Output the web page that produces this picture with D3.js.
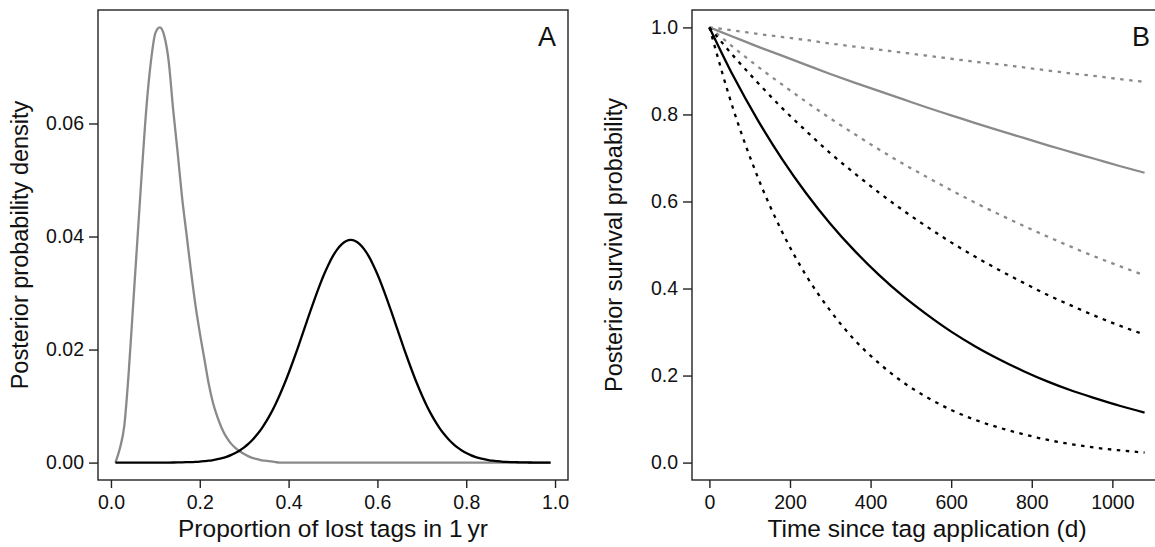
<!DOCTYPE html>
<html>
<head>
<meta charset="utf-8">
<script src="https://cdn.jsdelivr.net/npm/d3@7"></script>
<style>
  body { margin: 0; background: #fff; }
  text { font-family: "Liberation Sans", Arial, Helvetica, sans-serif; fill: #111; }
</style>
</head>
<body>
<div id="chart"></div>
<script>
// Panel A: proportion of lost tags in 1 yr (0.01 .. 0.99 by 0.01)
const propX = d3.range(1, 100).map(i => i / 100);
const densGrey = [
  0.0000, 0.0025, 0.0065, 0.0160, 0.0280, 0.0400, 0.0520, 0.0630, 0.0710, 0.0760,
  0.0770, 0.0755, 0.0710, 0.0625, 0.0550, 0.0470, 0.0405, 0.0340, 0.0280, 0.0230,
  0.0185, 0.0140, 0.0105, 0.0080, 0.0060, 0.0045, 0.0034, 0.0026, 0.0020, 0.0015,
  0.0011, 0.0008, 0.0006, 0.0004, 0.0003, 0.0002, 0.0001,
  0, 0, 0, 0, 0, 0, 0, 0, 0, 0, 0, 0, 0, 0, 0, 0, 0, 0, 0, 0, 0, 0, 0, 0, 0, 0,
  0, 0, 0, 0, 0, 0, 0, 0, 0, 0, 0, 0, 0, 0, 0, 0, 0, 0, 0, 0, 0, 0, 0, 0, 0, 0,
  0, 0, 0, 0, 0, 0, 0, 0, 0, 0, 0, 0, 0, 0
];
const densBlack = [
  0, 0, 0, 0, 0, 0, 0, 0, 0, 0, 0, 0,
  0.00001, 0.00002, 0.00003, 0.00005, 0.00007, 0.00009, 0.00013, 0.00018, 0.00025, 0.00033,
  0.00045, 0.00060, 0.00078, 0.00102, 0.00132, 0.00169, 0.00214, 0.00269, 0.00335, 0.00413,
  0.00505, 0.00611, 0.00733, 0.00871, 0.01025, 0.01196, 0.01381, 0.01581, 0.01793, 0.02014,
  0.02242, 0.02473, 0.02702, 0.02924, 0.03136, 0.03332, 0.03507, 0.03657, 0.03778, 0.03867,
  0.03922, 0.03940, 0.03922, 0.03867, 0.03778, 0.03657, 0.03507, 0.03332, 0.03136, 0.02924,
  0.02702, 0.02473, 0.02242, 0.02014, 0.01793, 0.01581, 0.01381, 0.01196, 0.01025, 0.00871,
  0.00733, 0.00611, 0.00505, 0.00413, 0.00335, 0.00269, 0.00214, 0.00169, 0.00132, 0.00102,
  0.00078, 0.00060, 0.00045, 0.00033, 0.00025, 0.00018, 0.00013, 0.00009, 0.00007, 0.00005,
  0.00003, 0.00002, 0.00001, 0, 0, 0, 0
];
const ticksAx = [0, 0.2, 0.4, 0.6, 0.8, 1.0];
const ticksAy = [0, 0.02, 0.04, 0.06];

// Panel B: survival vs days since tagging
const days = [0, 60, 120, 180, 240, 300, 360, 420, 480, 540, 600, 660, 720, 780, 840, 900, 960, 1020, 1080];
const survGreyHi = [1.000, 0.993, 0.985, 0.978, 0.971, 0.963, 0.956, 0.949, 0.942, 0.935, 0.928, 0.921, 0.915, 0.908, 0.901, 0.894, 0.888, 0.881, 0.875];
const survGreyMed = [1.000, 0.978, 0.956, 0.935, 0.914, 0.893, 0.873, 0.854, 0.835, 0.816, 0.798, 0.780, 0.763, 0.746, 0.729, 0.713, 0.697, 0.681, 0.666];
const survGreyLo = [1.000, 0.954, 0.910, 0.869, 0.829, 0.791, 0.755, 0.720, 0.687, 0.656, 0.626, 0.597, 0.570, 0.544, 0.519, 0.495, 0.472, 0.451, 0.430];
const survBlackHi = [1.000, 0.934, 0.873, 0.815, 0.762, 0.711, 0.665, 0.621, 0.580, 0.542, 0.506, 0.473, 0.442, 0.413, 0.385, 0.360, 0.336, 0.314, 0.294];
const survBlackMed = [1.000, 0.887, 0.787, 0.698, 0.619, 0.549, 0.487, 0.432, 0.383, 0.340, 0.301, 0.267, 0.237, 0.210, 0.186, 0.165, 0.147, 0.130, 0.115];
const survBlackLo = [1.000, 0.810, 0.656, 0.531, 0.430, 0.349, 0.282, 0.229, 0.185, 0.150, 0.121, 0.098, 0.080, 0.065, 0.052, 0.042, 0.034, 0.028, 0.023];
const ticksBx = [0, 200, 400, 600, 800, 1000];
const ticksBy = [0, 0.2, 0.4, 0.6, 0.8, 1.0];

const GREY = "#8a8a8a",
  WIDTH = 1155,
  HEIGHT = 547,
  PLOT = 470,
  TOP = 10,
  PANEL_W = 594,
  LEFT = 98;

const svg = d3.select("#chart").append("svg")
  .attr("width", WIDTH)
  .attr("height", HEIGHT);

// R-style extended range (4% each side)
function usr(lo, hi) {
  const pad = (hi - lo) * 0.04;
  return [lo - pad, hi + pad];
}

function drawPanel(opts) {
  const x0 = LEFT + opts.index * PANEL_W,
    g = svg.append("g"),
    x = d3.scaleLinear().domain(usr(opts.xMin, opts.xMax)).range([x0, x0 + PLOT]),
    y = d3.scaleLinear().domain(usr(opts.yMin, opts.yMax)).range([TOP + PLOT, TOP]);

  // series
  opts.series.forEach(s => {
    const line = d3.line()
      .x((d, i) => x(opts.xs[i]))
      .y(d => y(d))
      .curve(d3.curveMonotoneX);
    g.append("path")
      .datum(s.values)
      .attr("d", line)
      .attr("fill", "none")
      .attr("stroke", s.color)
      .attr("stroke-width", 2.3)
      .attr("stroke-linejoin", "round")
      .attr("stroke-dasharray", s.dotted ? "3.5,5.5" : null);
  });

  // box
  g.append("rect")
    .attr("x", x0).attr("y", TOP)
    .attr("width", PLOT).attr("height", PLOT)
    .attr("fill", "none")
    .attr("stroke", "#222")
    .attr("stroke-width", 1.4);

  const xAxis = g.append("g")
    .attr("transform", `translate(0,${TOP + PLOT})`)
    .call(d3.axisBottom(x).tickValues(opts.xTicks).tickFormat(opts.xFmt).tickSize(8).tickPadding(7));
  const yAxis = g.append("g")
    .attr("transform", `translate(${x0},0)`)
    .call(d3.axisLeft(y).tickValues(opts.yTicks).tickFormat(opts.yFmt).tickSize(9).tickPadding(5));

  [xAxis, yAxis].forEach(a => {
    a.select(".domain").remove();
    a.selectAll("line").attr("stroke", "#222").attr("stroke-width", 1.4);
    a.selectAll("text")
      .style("font-family", '"Liberation Sans", Arial, sans-serif')
      .style("font-size", "19.5px")
      .attr("fill", "#111");
  });

  // axis titles
  g.append("text")
    .attr("x", x0 + PLOT / 2)
    .attr("y", 537)
    .attr("text-anchor", "middle")
    .style("font-size", "24.5px")
    .text(opts.xTitle);

  g.append("text")
    .attr("transform", `translate(${x0 - 70},${TOP + PLOT / 2}) rotate(-90)`)
    .attr("text-anchor", "middle")
    .style("font-size", "23.5px")
    .text(opts.yTitle);

  // panel letter
  g.append("text")
    .attr("x", x0 + PLOT - 12)
    .attr("y", 46)
    .attr("text-anchor", "end")
    .style("font-size", "27px")
    .text(opts.letter);
}

drawPanel({
  index: 0,
  letter: "A",
  xs: propX,
  xMin: 0.01, xMax: 0.99,
  yMin: 0, yMax: 0.077,
  xTicks: ticksAx, yTicks: ticksAy,
  xFmt: d3.format(".1f"), yFmt: d3.format(".2f"),
  xTitle: "Proportion of lost tags in 1\u2009yr",
  yTitle: "Posterior probability density",
  series: [
    { values: densGrey, color: GREY },
    { values: densBlack, color: "#000" }
  ]
});

drawPanel({
  index: 1,
  letter: "B",
  xs: days,
  xMin: 0, xMax: 1080,
  yMin: 0, yMax: 1,
  xTicks: ticksBx, yTicks: ticksBy,
  xFmt: d3.format("d"), yFmt: d3.format(".1f"),
  xTitle: "Time since tag application (d)",
  yTitle: "Posterior survival probability",
  series: [
    { values: survGreyHi, color: GREY, dotted: true },
    { values: survGreyLo, color: GREY, dotted: true },
    { values: survGreyMed, color: GREY },
    { values: survBlackHi, color: "#000", dotted: true },
    { values: survBlackLo, color: "#000", dotted: true },
    { values: survBlackMed, color: "#000" }
  ]
});
</script>
</body>
</html>
